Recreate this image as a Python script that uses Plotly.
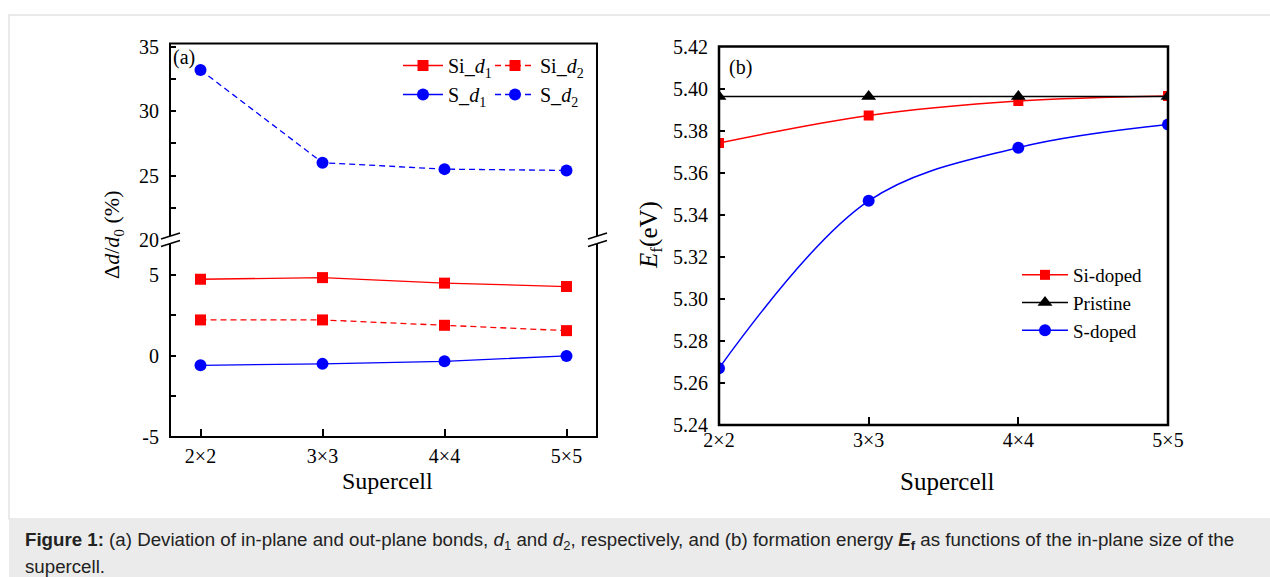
import plotly.graph_objects as go

W, H = 1270, 577

# ---------------- data ----------------
cells = ["2×2", "3×3", "4×4", "5×5"]

si_d1 = [4.73, 4.83, 4.49, 4.28]
si_d2 = [2.22, 2.22, 1.89, 1.56]
s_d1 = [-0.58, -0.49, -0.33, 0.00]
s_d2 = [33.2, 26.0, 25.5, 25.4]

ef_si = [5.3741, 5.3872, 5.3941, 5.3965]
ef_pristine = [5.3962, 5.3962, 5.3962, 5.3962]
ef_s = [5.2670, 5.3466, 5.3719, 5.3829]

# tick labels of the lower / upper segment of panel (a)
low_ticks = [-5, 0, 5]
low_labels = ["-5", "0", "5"]
up_ticks = [20, 25, 30, 35]
up_labels = ["20", "25", "30", "35"]

# ---------------- helpers ----------------
def px(x):
    return x / W

def py(y):
    return 1 - y / H

RED = "#ff0000"
BLUE = "#0000ff"
SERIF = "Liberation Serif"
SANS = "Liberation Sans"

# panel geometry (pixels)
A_L, A_R, A_T, A_B, A_BRK = 170, 597, 43.5, 437, 240
B_L, B_R, B_T, B_B = 719, 1168, 46.5, 425

fig = go.Figure()

# ---- panel (a) ----
fig.add_trace(go.Scatter(x=cells, y=si_d1, mode="lines+markers", name="Si_<i>d</i><sub>1</sub>",
                         line=dict(color=RED, width=1.3), marker=dict(symbol="square", size=11, color=RED),
                         xaxis="x", yaxis="y", legend="legend"))
fig.add_trace(go.Scatter(x=cells, y=s_d1, mode="lines+markers", name="S_<i>d</i><sub>1</sub>",
                         line=dict(color=BLUE, width=1.3), marker=dict(symbol="circle", size=12, color=BLUE),
                         xaxis="x", yaxis="y", legend="legend"))
fig.add_trace(go.Scatter(x=cells, y=si_d2, mode="lines+markers", name="Si_<i>d</i><sub>2</sub>",
                         line=dict(color=RED, width=1.3, dash="6px,4px"), marker=dict(symbol="square", size=11, color=RED),
                         xaxis="x", yaxis="y", legend="legend2"))
fig.add_trace(go.Scatter(x=cells, y=s_d2, mode="lines+markers", name="S_<i>d</i><sub>2</sub>",
                         line=dict(color=BLUE, width=1.3, dash="6px,4px"), marker=dict(symbol="circle", size=12, color=BLUE),
                         xaxis="x", yaxis="y2", legend="legend2"))

# ---- panel (b) ----
fig.add_trace(go.Scatter(x=cells, y=ef_si, mode="lines+markers", name="Si-doped",
                         line=dict(color=RED, width=1.5, shape="spline"), marker=dict(symbol="square", size=10, color=RED),
                         xaxis="x2", yaxis="y3", legend="legend3"))
fig.add_trace(go.Scatter(x=cells, y=ef_pristine, mode="lines+markers", name="Pristine",
                         line=dict(color="black", width=1.5), marker=dict(symbol="triangle-up", size=13, color="black"),
                         xaxis="x2", yaxis="y3", legend="legend3"))
fig.add_trace(go.Scatter(x=cells, y=ef_s, mode="lines+markers", name="S-doped",
                         line=dict(color=BLUE, width=1.5, shape="spline"), marker=dict(symbol="circle", size=12, color=BLUE),
                         xaxis="x2", yaxis="y3", legend="legend3"))

tickfont = dict(family=SERIF, size=20, color="black")
common_y = dict(ticks="inside", ticklen=6, tickwidth=1.5, tickcolor="black", showgrid=False, zeroline=False,
                showline=False, tickfont=tickfont, ticklabelstandoff=10, automargin=False)
common_x = dict(ticks="inside", ticklen=8, tickwidth=1.5, tickcolor="black", showgrid=False, zeroline=False,
                showline=False, tickfont=tickfont, automargin=False)
minor = dict(dtick=2.5, ticks="inside", ticklen=6, tickwidth=1.5, tickcolor="black")

fig.update_layout(
    width=W, height=H, margin=dict(l=0, r=0, t=0, b=0, pad=0, autoexpand=False),
    paper_bgcolor="white", plot_bgcolor="rgba(0,0,0,0)",
    xaxis=dict(domain=[px(A_L), px(A_R)], anchor="y", type="category", range=[-0.25, 3.25],
               ticklabelstandoff=5, **common_x),
    yaxis=dict(domain=[py(A_B), py(A_BRK)], anchor="x", range=[-5, 7.15], tickmode="array",
               tickvals=low_ticks, ticktext=low_labels, minor=dict(tick0=-5, **minor), **common_y),
    yaxis2=dict(domain=[py(A_BRK), py(A_T)], anchor="x", range=[20, 35.25], tickmode="array",
                tickvals=up_ticks, ticktext=up_labels, minor=dict(tick0=20, **minor), **common_y),
    xaxis2=dict(domain=[px(B_L), px(B_R)], anchor="y3", type="category", range=[0, 3],
                ticklabelstandoff=1, **common_x),
    yaxis3=dict(domain=[py(B_B), py(B_T)], anchor="x2", range=[5.24, 5.42], tick0=5.24, dtick=0.02,
                tickformat=".2f", **common_y),
    legend=dict(x=px(398), y=py(46), xanchor="left", yanchor="top", bgcolor="rgba(0,0,0,0)",
                font=dict(family=SERIF, size=20, color="black"), itemwidth=40, tracegroupgap=0),
    legend2=dict(x=px(490), y=py(46), xanchor="left", yanchor="top", bgcolor="rgba(0,0,0,0)",
                 font=dict(family=SERIF, size=20, color="black"), itemwidth=40, tracegroupgap=0),
    legend3=dict(x=px(1017), y=py(256), xanchor="left", yanchor="top", bgcolor="rgba(0,0,0,0)",
                 font=dict(family=SERIF, size=19, color="black"), itemwidth=46, tracegroupgap=0),
)

shapes = []
# outer light border and caption band
shapes.append(dict(type="rect", xref="paper", yref="paper", x0=px(9), x1=px(1272), y0=py(519), y1=py(15),
                   line=dict(color="#e3e3e3", width=1.5), fillcolor="rgba(0,0,0,0)", layer="below"))
shapes.append(dict(type="rect", xref="paper", yref="paper", x0=px(9), x1=px(1272), y0=py(580), y1=py(519),
                   line=dict(width=0), fillcolor="#ebebeb", layer="below"))
# frames
shapes.append(dict(type="rect", xref="paper", yref="paper", x0=px(A_L), x1=px(A_R), y0=py(A_B), y1=py(A_T),
                   line=dict(color="black", width=2)))
shapes.append(dict(type="rect", xref="paper", yref="paper", x0=px(B_L), x1=px(B_R), y0=py(B_B), y1=py(B_T),
                   line=dict(color="black", width=2.5)))
# axis break marks
for cx in (A_L, A_R):
    x0, x1 = cx - 9, cx + 10
    path = (f"M {px(x0)} {py(239)} L {px(x1)} {py(233)} L {px(x1)} {py(240.5)} "
            f"L {px(x0)} {py(246.5)} Z")
    shapes.append(dict(type="path", xref="paper", yref="paper", path=path,
                       fillcolor="white", line=dict(width=0)))
    shapes.append(dict(type="line", xref="paper", yref="paper", x0=px(x0), y0=py(239), x1=px(x1), y1=py(233),
                       line=dict(color="black", width=1.5)))
    shapes.append(dict(type="line", xref="paper", yref="paper", x0=px(x0), y0=py(246.5), x1=px(x1), y1=py(240.5),
                       line=dict(color="black", width=1.5)))
fig.update_layout(shapes=shapes)

ann = []
def text(x, y, s, size, family=SERIF, angle=0, xanchor="center", yanchor="middle", color="black"):
    ann.append(dict(xref="paper", yref="paper", x=px(x), y=py(y), text=s, showarrow=False,
                    font=dict(family=family, size=size, color=color), textangle=angle,
                    xanchor=xanchor, yanchor=yanchor))

text(184, 57, "(a)", 20)
text(740, 67, "(b)", 20)
text(387, 481, "Supercell", 24)
text(947, 481, "Supercell", 25)
text(113, 235, "Δ<i>d</i>/<i>d</i><sub>0</sub> (%)", 22, angle=-90)
text(650, 235, "<i>E</i><sub>f</sub>(eV)", 25, angle=-90)
text(23, 541, "<b>Figure 1:</b> (a) Deviation of in-plane and out-plane bonds, <i>d</i><sub>1</sub> and "
               "<i>d</i><sub>2</sub>, respectively, and (b) formation energy <b><i>E</i><sub>f</sub></b> "
               "as functions of the in-plane size of the", 18.7, family=SANS, xanchor="left", color="#222222")
text(23, 566, "supercell.", 18.7, family=SANS, xanchor="left", color="#222222")
fig.update_layout(annotations=ann)

fig.write_html("out.html")
